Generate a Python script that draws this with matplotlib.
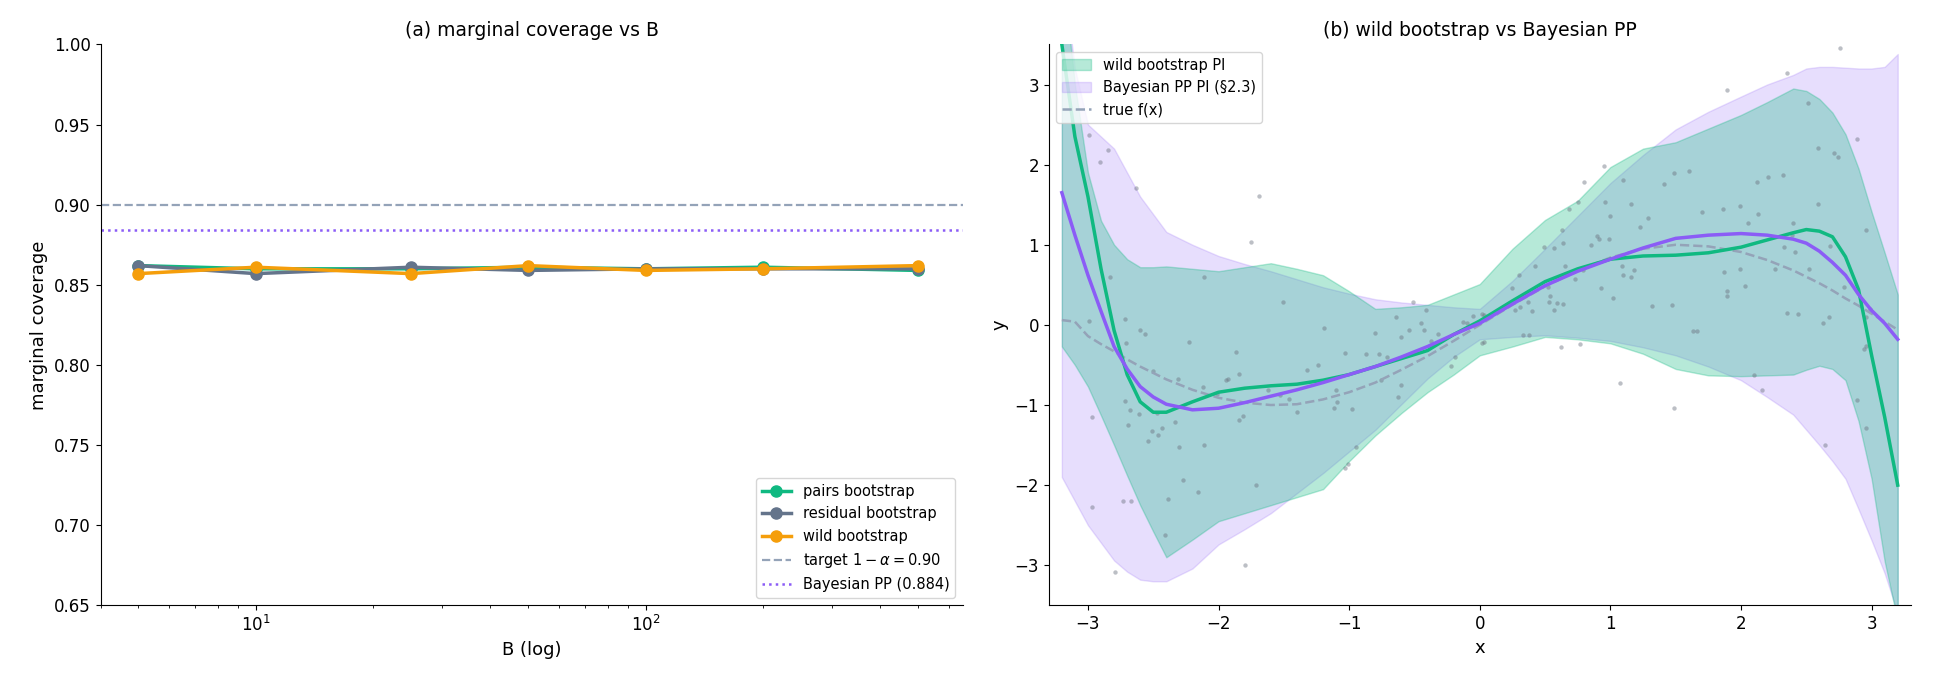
import matplotlib
matplotlib.use("Agg")
import matplotlib.pyplot as plt
import numpy as np

# ---- panel (a) ----
B = [5, 10, 25, 50, 100, 200, 500]
cov_pairs = [0.862, 0.860, 0.860, 0.861, 0.860, 0.861, 0.859]
cov_resid = [0.862, 0.857, 0.861, 0.859, 0.860, 0.860, 0.860]
cov_wild = [0.857, 0.861, 0.857, 0.862, 0.859, 0.860, 0.862]
target = 0.90
bayes_cov = 0.884

# ---- panel (b) ----
grid_x = [-3.2, -3.1, -3.0, -2.9, -2.8, -2.7, -2.6, -2.5, -2.4, -2.2, -2.0, -1.8, -1.6, -1.4, -1.2, -1.0,
          -0.8, -0.6, -0.4, -0.2, 0.0, 0.25, 0.5, 0.75, 1.0, 1.25, 1.5, 1.75, 2.0, 2.2, 2.4, 2.5, 2.6,
          2.7, 2.8, 2.9, 3.0, 3.1, 3.2]
wild_lo = [-0.27, -0.5, -0.77, -1.13, -1.5, -1.88, -2.25, -2.58, -2.9, -2.68, -2.45, -2.35, -2.25, -2.15, -2.05, -1.7,
           -1.38, -1.1, -0.84, -0.62, -0.38, -0.27, -0.15, -0.18, -0.23, -0.36, -0.55, -0.63, -0.64, -0.63, -0.62, -0.56, -0.51,
           -0.55, -0.69, -1.2, -1.92, -2.95, -3.7]
wild_hi = [4.5, 3.0, 1.9, 1.3, 1.0, 0.82, 0.72, 0.72, 0.73, 0.70, 0.67, 0.72, 0.77, 0.70, 0.62, 0.42,
           0.2, 0.22, 0.25, 0.38, 0.51, 0.95, 1.31, 1.55, 1.97, 2.2, 2.28, 2.45, 2.62, 2.78, 2.95, 2.92, 2.82,
           2.65, 2.38, 1.95, 1.41, 0.9, 0.38]
bayes_lo = [-1.9, -2.2, -2.5, -2.72, -2.94, -3.08, -3.18, -3.2, -3.2, -3.04, -2.74, -2.55, -2.35, -2.1, -1.85, -1.58,
            -1.31, -0.99, -0.67, -0.4, -0.18, -0.15, -0.13, -0.16, -0.2, -0.28, -0.38, -0.52, -0.69, -0.9, -1.12, -1.31, -1.5,
            -1.7, -1.92, -2.3, -2.69, -3.1, -3.6]
bayes_hi = [4.5, 3.2, 2.5, 2.35, 2.2, 1.9, 1.6, 1.38, 1.16, 1.0, 0.86, 0.76, 0.67, 0.57, 0.47, 0.39,
            0.32, 0.28, 0.25, 0.22, 0.2, 0.55, 0.95, 1.36, 1.77, 2.12, 2.44, 2.66, 2.85, 3.0, 3.12, 3.2, 3.22,
            3.22, 3.21, 3.2, 3.2, 3.22, 3.38]
wild_fit = [3.5, 2.35, 1.6, 0.7, -0.07, -0.62, -0.96, -1.09, -1.09, -0.96, -0.84, -0.79, -0.76, -0.74, -0.69, -0.62,
            -0.52, -0.42, -0.32, -0.12, 0.05, 0.3, 0.54, 0.7, 0.82, 0.86, 0.87, 0.9, 0.97, 1.06, 1.15, 1.19, 1.17,
            1.1, 0.85, 0.44, -0.38, -1.15, -2.0]
bayes_fit = [1.65, 1.12, 0.62, 0.17, -0.27, -0.55, -0.77, -0.9, -0.99, -1.06, -1.04, -0.97, -0.89, -0.81, -0.72, -0.62,
             -0.52, -0.4, -0.27, -0.12, 0.02, 0.26, 0.49, 0.67, 0.82, 0.96, 1.08, 1.12, 1.14, 1.12, 1.07, 1.02, 0.92,
             0.78, 0.62, 0.38, 0.18, 0.02, -0.18]
true_f = [0.06, 0.04, -0.14, -0.24, -0.33, -0.43, -0.52, -0.6, -0.68, -0.81, -0.91, -0.97, -1.0, -0.99, -0.93, -0.84,
          -0.72, -0.56, -0.39, -0.2, 0.0, 0.25, 0.48, 0.68, 0.84, 0.95, 1.0, 0.98, 0.91, 0.81, 0.68, 0.6, 0.52,
          0.43, 0.33, 0.24, 0.14, 0.04, -0.06]

obs_x = [-2.99, -2.97, -2.97, -2.99, -2.91, -2.85, -2.83, -2.79, -2.72, -2.71, -2.72, -2.68, -2.69, -2.73, -2.67,
         -2.63, -2.6, -2.56, -2.61, -2.54, -2.51, -2.5, -2.47, -2.46, -2.43, -2.39, -2.41, -2.33, -2.31, -2.3,
         -2.27, -2.23, -2.16, -2.12, -2.11, -2.11, -2.01, -1.94, -1.93, -1.87, -1.84, -1.84, -1.81, -1.8, -1.75,
         -1.71, -1.69, -1.62, -1.53, -1.51, -1.46, -1.4, -1.32, -1.24, -1.19, -1.12, -1.1, -1.09, -1.03, -1.03,
         -1.01, -0.98, -0.95, -0.87, -0.8, -0.77, -0.71, -0.76, -0.64, -0.63, -0.6, -0.6, -0.54, -0.51, -0.45,
         -0.43, -0.41, -0.37, -0.32, -0.22, -0.19, -0.13, -0.1, -0.05, 0.02, 0.03,
         0.03, 0.02, 0.25, 0.3, 0.27, 0.31, 0.33, 0.38, 0.37, 0.4, 0.42, 0.49, 0.52, 0.54, 0.53, 0.57, 0.57,
         0.59, 0.62, 0.63, 0.64, 0.64, 0.65, 0.68, 0.73, 0.75, 0.77, 0.79, 0.8, 0.85, 0.9, 0.91, 0.93, 0.95,
         0.96, 0.99, 1.0, 1.02, 1.07, 1.09, 1.1, 1.1, 1.16, 1.16, 1.18, 1.23, 1.29, 1.32, 1.41, 1.47, 1.49,
         1.49, 1.6, 1.63, 1.66, 1.7, 1.86, 1.87, 1.89, 1.89, 1.89, 1.99, 1.99, 2.03, 2.05, 2.1, 2.12, 2.13,
         2.16, 2.21, 2.26, 2.32, 2.33, 2.35, 2.35, 2.39, 2.4, 2.41, 2.44, 2.51, 2.52, 2.59, 2.59, 2.64, 2.63,
         2.67, 2.68, 2.71, 2.74, 2.76, 2.79, 2.89, 2.89, 2.94, 2.96, 2.96, 2.96, 2.96, 2.99]
obs_y = [0.05, -1.15, -2.27, 2.37, 2.03, 2.18, 0.6, -3.08, 0.07, -0.22, -0.95, -1.06, -1.25, -2.2, -2.2,
         1.71, -0.06, -0.11, -1.11, -1.45, -1.33, -0.57, -1.1, -1.37, -1.29, -2.17, -2.62, -1.21, -0.67, -1.52,
         -1.94, -0.21, -2.08, -0.77, 0.6, -1.5, -0.86, -0.69, -0.67, -0.34, -0.61, -1.19, -1.14, -3.0, 1.03,
         -2.0, 1.61, -0.81, -0.88, 0.28, -0.93, -1.09, -0.56, -0.5, -0.04, -1.04, -0.81, -0.96, -0.35, -1.79,
         -1.74, -1.05, -1.53, -0.36, -0.1, -0.36, -0.4, -0.69, 0.1, -0.9, -0.15, -0.75, -0.06, 0.28, 0.02,
         -0.06, 0.19, -0.2, -0.11, -0.51, -0.4, 0.03, 0.02, 0.11, -0.22, 0.12,
         -0.21, 0.14, 0.46, 0.62, 0.18, 0.22, -0.12, -0.12, 0.28, 0.17, 0.73, 0.97, 0.47, 0.36, 0.29, 0.19, 0.96,
         0.27, -0.27, 1.18, 1.02, 0.26, 0.74, 1.45, 0.57, 1.54, -0.24, 0.68, 1.78, 1.0, 1.11, 1.07, 0.46, 1.98,
         1.54, 1.07, 1.36, 0.34, -0.73, 0.73, 0.62, 1.81, 1.51, 0.6, 0.69, 1.22, 1.34, 0.24, 1.76, 0.25, 1.89,
         -1.04, 1.92, -0.07, -0.08, 1.41, 1.45, 0.66, 0.42, 0.36, 2.93, 1.48, 0.7, 0.48, 1.27, -0.62, 1.78, 1.39,
         -0.81, 1.85, 0.7, 1.87, 0.97, 0.15, 3.14, 1.12, 1.27, 0.91, 0.13, 2.77, 0.7, 2.21, 1.51, -1.5, 0.02,
         0.1, 0.99, 2.15, 2.1, 3.46, 0.47, -0.94, 2.32, -0.3, -0.26, -1.29, 1.19, 0.1, 0.2]

GREEN = "#10b981"
SLATE = "#64748b"
ORANGE = "#f59e0b"
PURPLE = "#8b5cf6"
TGT = "#94a3b8"

fig, (ax1, ax2) = plt.subplots(1, 2, figsize=(19.34, 6.84), dpi=100)
fig.subplots_adjust(left=0.052, right=0.988, top=0.935, bottom=0.115, wspace=0.1)

ax1.plot(B, cov_pairs, "-o", color=GREEN, lw=2.5, ms=8, label="pairs bootstrap")
ax1.plot(B, cov_resid, "-o", color=SLATE, lw=2.5, ms=8, label="residual bootstrap")
ax1.plot(B, cov_wild, "-o", color=ORANGE, lw=2.5, ms=8, label="wild bootstrap")
ax1.axhline(target, color=TGT, ls="--", lw=1.6, label=r"target $1-\alpha=0.90$")
ax1.axhline(bayes_cov, color=PURPLE, ls=":", lw=1.8, label="Bayesian PP (0.884)")
ax1.set_xscale("log")
ax1.set_xlim(4, 650)
ax1.set_ylim(0.65, 1.0)
ax1.set_xlabel("B (log)", fontsize=13)
ax1.set_ylabel("marginal coverage", fontsize=13)
ax1.set_title("(a) marginal coverage vs B", fontsize=13.5)
ax1.legend(loc="lower right", fontsize=10.5)

xs = np.array(grid_x)
ax2.fill_between(xs, bayes_lo, bayes_hi, color=PURPLE, alpha=0.2, label="Bayesian PP PI (§2.3)")
ax2.fill_between(xs, wild_lo, wild_hi, color=GREEN, alpha=0.3, label="wild bootstrap PI")
ax2.scatter(obs_x, obs_y, s=10, color="#6b7280", alpha=0.45, lw=0)
ax2.plot(xs, true_f, ls="--", color=TGT, lw=1.8, label="true f(x)")
ax2.plot(xs, wild_fit, color=GREEN, lw=2.5)
ax2.plot(xs, bayes_fit, color=PURPLE, lw=2.5)
ax2.set_xlim(-3.3, 3.3)
ax2.set_ylim(-3.5, 3.5)
ax2.set_xlabel("x", fontsize=13)
ax2.set_ylabel("y", fontsize=13)
ax2.set_title("(b) wild bootstrap vs Bayesian PP", fontsize=13.5)
h, l = ax2.get_legend_handles_labels()
order = [l.index("wild bootstrap PI"), l.index("Bayesian PP PI (§2.3)"), l.index("true f(x)")]
ax2.legend([h[i] for i in order], [l[i] for i in order], loc="upper left", fontsize=10.5)

for ax in (ax1, ax2):
    ax.spines["top"].set_visible(False)
    ax.spines["right"].set_visible(False)
    ax.tick_params(labelsize=12)

fig.savefig("out.png", dpi=100)
